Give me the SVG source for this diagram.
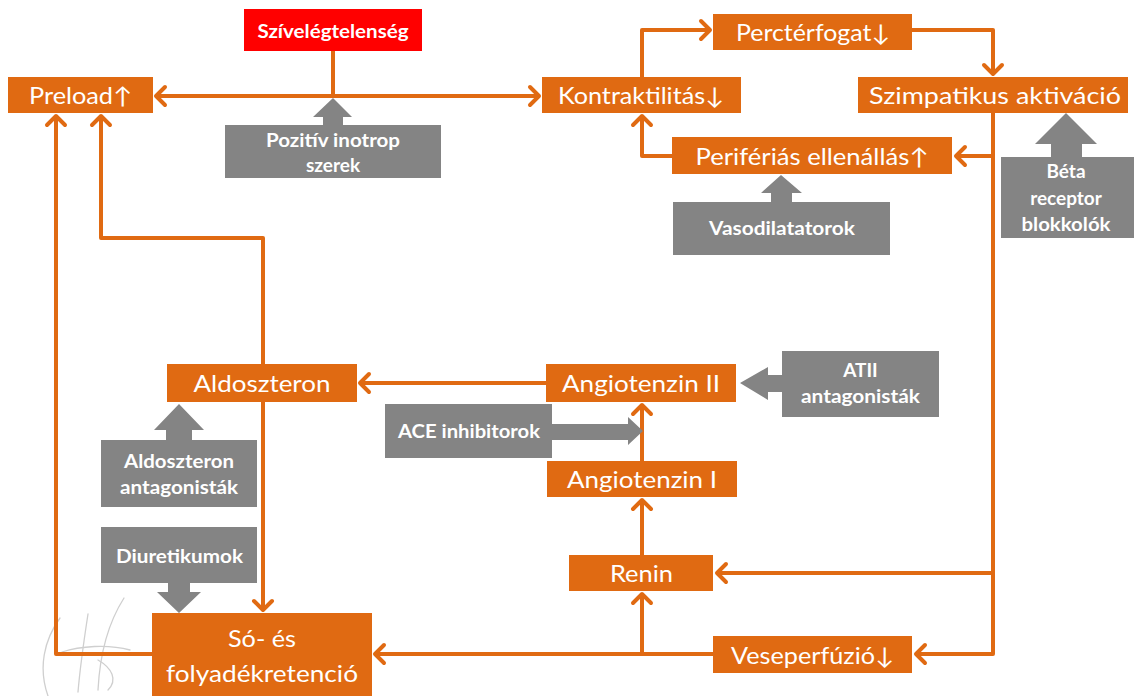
<svg xmlns="http://www.w3.org/2000/svg" width="1134" height="696" viewBox="0 0 1134 696">
<style>
.ob{fill:#E06A12}
.gb{fill:#848484}
.rb{fill:#FF0000}
.ot{font-family:Lato,"Open Sans","DejaVu Sans",sans-serif;font-size:23px;fill:#fff;text-anchor:middle}
.gt{font-family:Lato,"Open Sans","DejaVu Sans",sans-serif;font-size:19px;font-weight:bold;fill:#fff;text-anchor:middle}
.ln{fill:none;stroke:#E06A12;stroke-width:4;stroke-linejoin:round}
.arr{marker-end:url(#ch)}
.ga{fill:#848484}
.sig{fill:none;stroke:#cfcfcf;stroke-width:1.3;stroke-linecap:round}
</style>
<defs>
<marker id="ch" markerUnits="userSpaceOnUse" markerWidth="26" markerHeight="26" viewBox="-13 -13 26 26" refX="0" refY="0" orient="auto-start-reverse" overflow="visible">
<path d="M-10,-9 L-1,0 L-10,9" fill="none" stroke="#E06A12" stroke-width="4" stroke-linecap="round" stroke-linejoin="round"/>
</marker>
</defs>
<rect width="1134" height="696" fill="#fff"/>
<g id="signature">
<path class="sig" d="M60,618 C44,640 38,668 48,696"/>
<path class="sig" d="M88,614 C84,640 80,668 78,692"/>
<path class="sig" d="M124,598 C110,620 100,650 98,690"/>
<path class="sig" d="M62,652 C80,646 108,644 130,650"/>
<path class="sig" d="M98,660 C112,668 118,680 108,690"/>
</g>
<g id="connectors">
<path class="ln" d="M333,51 V96"/>
<path class="ln" d="M155,96 H540" marker-start="url(#ch)" marker-end="url(#ch)"/>
<path class="ln arr" d="M642,77 V30 H711"/>
<path class="ln arr" d="M912,30 H993 V75"/>
<path class="ln arr" d="M993,113 V654 H915"/>
<path class="ln arr" d="M993,156 H955"/>
<path class="ln arr" d="M993,573 H716"/>
<path class="ln arr" d="M672,156 H642 V115"/>
<path class="ln arr" d="M546,383 H359"/>
<path class="ln arr" d="M263,364 V238 H101 V115"/>
<path class="ln arr" d="M263,402 V611"/>
<path class="ln arr" d="M152,654 H56 V115"/>
<path class="ln arr" d="M642,461 V404"/>
<path class="ln arr" d="M642,555 V499"/>
<path class="ln arr" d="M713,654 H374"/>
<path class="ln arr" d="M642,654 V593"/>
</g>
<g id="drug-arrows">
<polygon class="ga" points="333,98 352,117 343,117 343,126 323,126 323,117 313,117"/>
<polygon class="ga" points="781,175 802,193 792,193 792,203 771,203 771,193 761,193"/>
<polygon class="ga" points="1066,113 1097,144 1082,144 1082,158 1051,158 1051,144 1035,144"/>
<polygon class="ga" points="179,404 204,430 192,430 192,441 166,441 166,430 154,430"/>
<polygon class="ga" points="740,383 768,367 768,375 783,375 783,392 768,392 768,400"/>
<polygon class="ga" points="551,424 628,424 628,417 643,431 628,445 628,440 551,440"/>
<polygon class="ga" points="168,582 190,582 190,592 201,592 179,613 157,592 168,592"/>
</g>
<g id="n-szivelegtelenseg"><rect class="rb" x="244" y="9" width="178" height="42"/><text class="gt" x="333" y="38" textLength="151" lengthAdjust="spacingAndGlyphs">Szívelégtelenség</text></g>
<g id="n-preload"><rect class="ob" x="8" y="77" width="145" height="36"/><text class="ot" x="80.5" y="104" textLength="103" lengthAdjust="spacingAndGlyphs">Preload↑</text></g>
<g id="n-pozitiv"><rect class="gb" x="225" y="125" width="216" height="53"/><text class="gt" x="333" y="147" textLength="134" lengthAdjust="spacingAndGlyphs">Pozitív inotrop</text><text class="gt" x="333" y="172">szerek</text></g>
<g id="n-kontraktilitas"><rect class="ob" x="542" y="77" width="199" height="36"/><text class="ot" x="641" y="104" textLength="166" lengthAdjust="spacingAndGlyphs">Kontraktilitás↓</text></g>
<g id="n-percterfogat"><rect class="ob" x="713" y="14" width="199" height="36"/><text class="ot" x="813" y="41" textLength="154" lengthAdjust="spacingAndGlyphs">Perctérfogat↓</text></g>
<g id="n-szimpatikus"><rect class="ob" x="858" y="77" width="270" height="36"/><text class="ot" x="995" y="104" textLength="252" lengthAdjust="spacingAndGlyphs">Szimpatikus aktiváció</text></g>
<g id="n-periferias"><rect class="ob" x="672" y="137" width="280" height="37"/><text class="ot" x="812" y="165" textLength="233" lengthAdjust="spacingAndGlyphs">Perifériás ellenállás↑</text></g>
<g id="n-vasodilatatorok"><rect class="gb" x="673" y="202" width="217" height="53"/><text class="gt" x="782" y="235" textLength="146" lengthAdjust="spacingAndGlyphs">Vasodilatatorok</text></g>
<g id="n-beta"><rect class="gb" x="1001" y="157" width="133" height="81"/><text class="gt" x="1066" y="178">Béta</text><text class="gt" x="1066" y="205">receptor</text><text class="gt" x="1066" y="231" textLength="89" lengthAdjust="spacingAndGlyphs">blokkolók</text></g>
<g id="n-aldoszteron"><rect class="ob" x="167" y="364" width="190" height="38"/><text class="ot" x="262" y="392" textLength="137" lengthAdjust="spacingAndGlyphs">Aldoszteron</text></g>
<g id="n-aldo-antag"><rect class="gb" x="101" y="440" width="156" height="67"/><text class="gt" x="179" y="468" textLength="110" lengthAdjust="spacingAndGlyphs">Aldoszteron</text><text class="gt" x="179" y="494" textLength="118" lengthAdjust="spacingAndGlyphs">antagonisták</text></g>
<g id="n-angiotenzin2"><rect class="ob" x="546" y="364" width="190" height="38"/><text class="ot" x="641" y="392" textLength="158" lengthAdjust="spacingAndGlyphs">Angiotenzin II</text></g>
<g id="n-atii"><rect class="gb" x="782" y="351" width="157" height="66"/><text class="gt" x="860.5" y="377">ATII</text><text class="gt" x="860.5" y="403" textLength="119" lengthAdjust="spacingAndGlyphs">antagonisták</text></g>
<g id="n-ace"><rect class="gb" x="385" y="404" width="167" height="54"/><text class="gt" x="469" y="438" textLength="142" lengthAdjust="spacingAndGlyphs">ACE inhibitorok</text></g>
<g id="n-angiotenzin1"><rect class="ob" x="547" y="461" width="190" height="36"/><text class="ot" x="642" y="488" textLength="150" lengthAdjust="spacingAndGlyphs">Angiotenzin I</text></g>
<g id="n-diuretikumok"><rect class="gb" x="101" y="527" width="156" height="56"/><text class="gt" x="179.5" y="563" textLength="127" lengthAdjust="spacingAndGlyphs">Diuretikumok</text></g>
<g id="n-renin"><rect class="ob" x="569" y="555" width="144" height="36"/><text class="ot" x="641.5" y="582" textLength="63" lengthAdjust="spacingAndGlyphs">Renin</text></g>
<g id="n-so"><rect class="ob" x="152" y="613" width="220" height="83"/><text class="ot" x="262" y="647" textLength="68" lengthAdjust="spacingAndGlyphs">Só- és</text><text class="ot" x="262" y="682" textLength="192" lengthAdjust="spacingAndGlyphs">folyadékretenció</text></g>
<g id="n-veseperfuzio"><rect class="ob" x="713" y="636" width="199" height="37"/><text class="ot" x="812.5" y="664" textLength="163" lengthAdjust="spacingAndGlyphs">Veseperfúzió↓</text></g>
</svg>
